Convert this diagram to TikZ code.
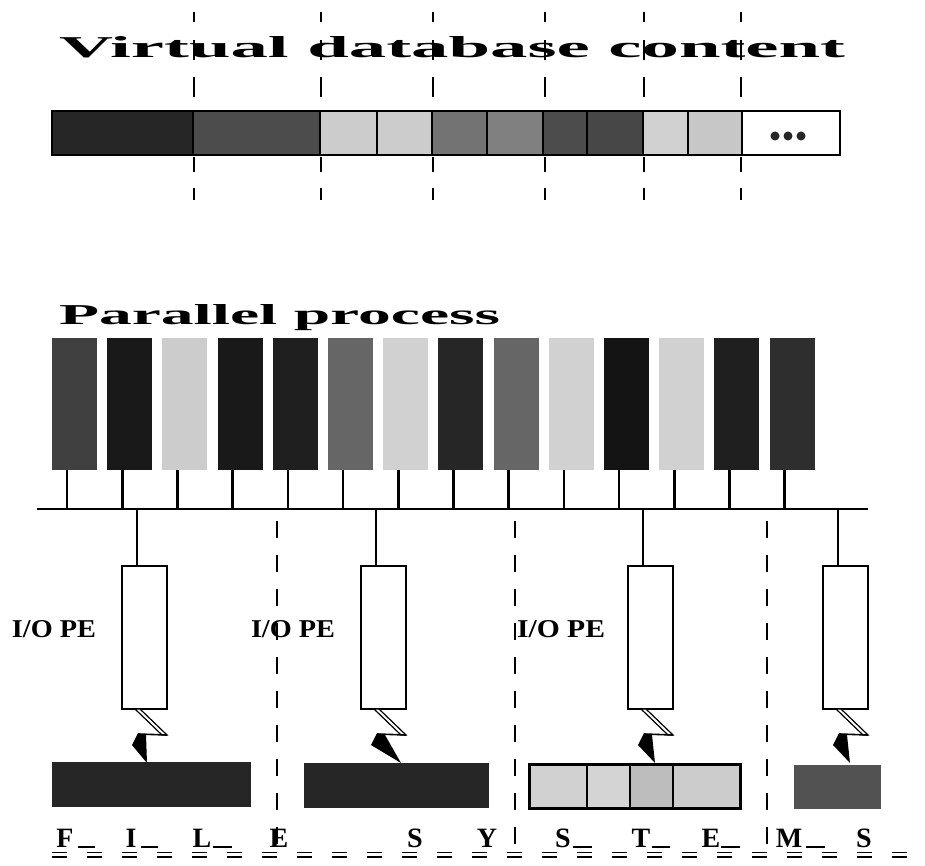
\documentclass[tikz,border=0pt]{standalone}
\usepackage{fontspec}
\setmainfont{Liberation Serif}
\usepackage{graphicx}
\begin{document}
\begin{tikzpicture}[x=1pt,y=-1pt,
  cell/.style={draw=black, line width=1.2pt, inner sep=0pt, outer sep=0pt, anchor=north west, minimum height=44pt},
  key/.style={inner sep=0pt, outer sep=0pt, minimum width=45pt, minimum height=132pt, anchor=north west},
  pebox/.style={draw, fill=white, line width=2.5pt, inner sep=0pt, outer sep=0pt, minimum width=45pt, minimum height=143pt, anchor=north west},
  databox/.style={inner sep=0pt, outer sep=0pt, anchor=north west},
  vdash/.style={line width=2.8pt},
  lowdash/.style={line width=2.8pt, dash pattern=on 17pt off 17pt},
  wire/.style={line width=2.6pt},
  thinwire/.style={line width=2.2pt},
  txt/.style={inner sep=0pt, outer sep=0pt, anchor=base west},
  letter/.style={inner sep=0pt, anchor=base, font=\fontsize{28}{28}\selectfont\bfseries}
]
\useasboundingbox (0,0) rectangle (925,866);

% ---------- top: virtual database content ----------
\node[txt] (vtitle) at (59,58) {\resizebox{786pt}{21pt}{\fontsize{20}{20}\selectfont\bfseries Virtual database content}};

\foreach \i/\xa/\xb/\s in {1/52/193/85, 2/193/320/70, 3/320/377/20, 4/377/432/20, 5/432/487/55, 6/487/543/50, 7/543/587/70, 8/587/643/72, 9/643/688/18, 10/688/742/22, 11/742/840/0}
  \node[cell, fill=black!\s, minimum width={\xb-\xa}] (c\i) at (\xa,111) {};
\draw[line width=2pt] (c1.north west) rectangle (c11.south east);
\foreach \dx in {-16,-3,10}
  \fill[black!85] ([xshift=\dx pt, yshift=-3pt]c11.center) circle (4.5pt);

\foreach \x in {194,321,433,545,644,741}
  \foreach \a/\b in {12/22,40/60,77/97,157/172,188/200}
    \draw[vdash] (\x,\a) -- (\x,\b);

% ---------- parallel process ----------
\node[txt] (ptitle) at (59,324) {\resizebox{441pt}{20pt}{\fontsize{20}{20}\selectfont\bfseries Parallel process}};

\coordinate (busL) at (37,509);
\coordinate (busR) at (868,509);

\foreach \i/\s in {0/75,1/90,2/20,3/90,4/88,5/60,6/18,7/85,8/60,9/18,10/92,11/18,12/88,13/82}
{
  \node[key, fill=black!\s] (k\i) at ({52+55.2*\i},338) {};
  \draw[wire] ([xshift=-7.5pt]k\i.south) -- ([xshift=-7.5pt]k\i.south |- busL);
}
\draw[wire] (busL) -- (busR);

% ---------- I/O PEs ----------
\foreach \i/\S in {1/137,2/376,3/643,4/838}
{
  \node[pebox] (pe\i) at ({\S-15},566) {};
  \draw[thinwire] ([xshift=-7.5pt]pe\i.north |- busL) -- ([xshift=-7.5pt]pe\i.north);
}

\node[txt] (io1) at (12,637) {\resizebox{84pt}{17pt}{\bfseries I/O PE}};
\node[txt] (io2) at (251,637) {\resizebox{84pt}{17pt}{\bfseries I/O PE}};
\node[txt] (io3) at (517,637) {\resizebox{88pt}{17pt}{\bfseries I/O PE}};

% dashed separators
\foreach \x in {277,515,767}
  \draw[lowdash] (\x,521) -- (\x,850);

% ---------- file system data ----------
\node[databox, fill=black!85, minimum width=199pt, minimum height=45pt] (d1) at (52,762) {};
\node[databox, fill=black!85, minimum width=185pt, minimum height=45pt] (d2) at (304,763) {};
\foreach \n/\xa/\xb/\s in {a/529/587/18, b/587/630/17, c/630/673/26, d/673/740/20}
  \node[databox, draw, line width=2.2pt, fill=black!\s, minimum width={\xb-\xa}, minimum height=44pt] (d3\n) at (\xa,764) {};
\draw[line width=3pt] (d3a.north west) rectangle (d3d.south east);
\node[databox, fill=black!68, minimum width=87pt, minimum height=44pt] (d4) at (794,765) {};

% lightning bolts
\foreach \S/\T in {137/147,376/401,643/655,838/850}
{
  \draw[line width=1.2pt, fill=white] ({\S-2},709) -- ({\S+3},709) -- ({\S+30},735) -- ({\S+25},735) -- cycle;
  \draw[line width=1.6pt] ({\S+30},735) -- ({\S+1},734);
  \fill ({\S+1},733) -- ({\S+9},735) -- (\T,763) -- ({\S-5},745) -- cycle;
}

% ---------- bottom lettering ----------
\foreach \n/\x/\t in {1/65/F, 2/131/I, 3/202/L, 4/279/E, 5/415/S, 6/487/Y, 7/563/S, 8/641/T, 9/711/E, 10/789/M, 11/864/S}
  \node[letter] (ch\n) at (\x,847) {\t};
\foreach \a/\b in {78/95, 141/158, 213/232, 573/592, 652/670, 721/740, 806/825}
  \draw[line width=1.3pt] (\a,847) -- (\b,847);
\draw[line width=1.5pt, dash pattern=on 15pt off 20pt] (52,852.5) -- (925,852.5);
\draw[line width=1.5pt, dash pattern=on 15pt off 20pt] (52,857) -- (925,857);
\end{tikzpicture}
\end{document}
